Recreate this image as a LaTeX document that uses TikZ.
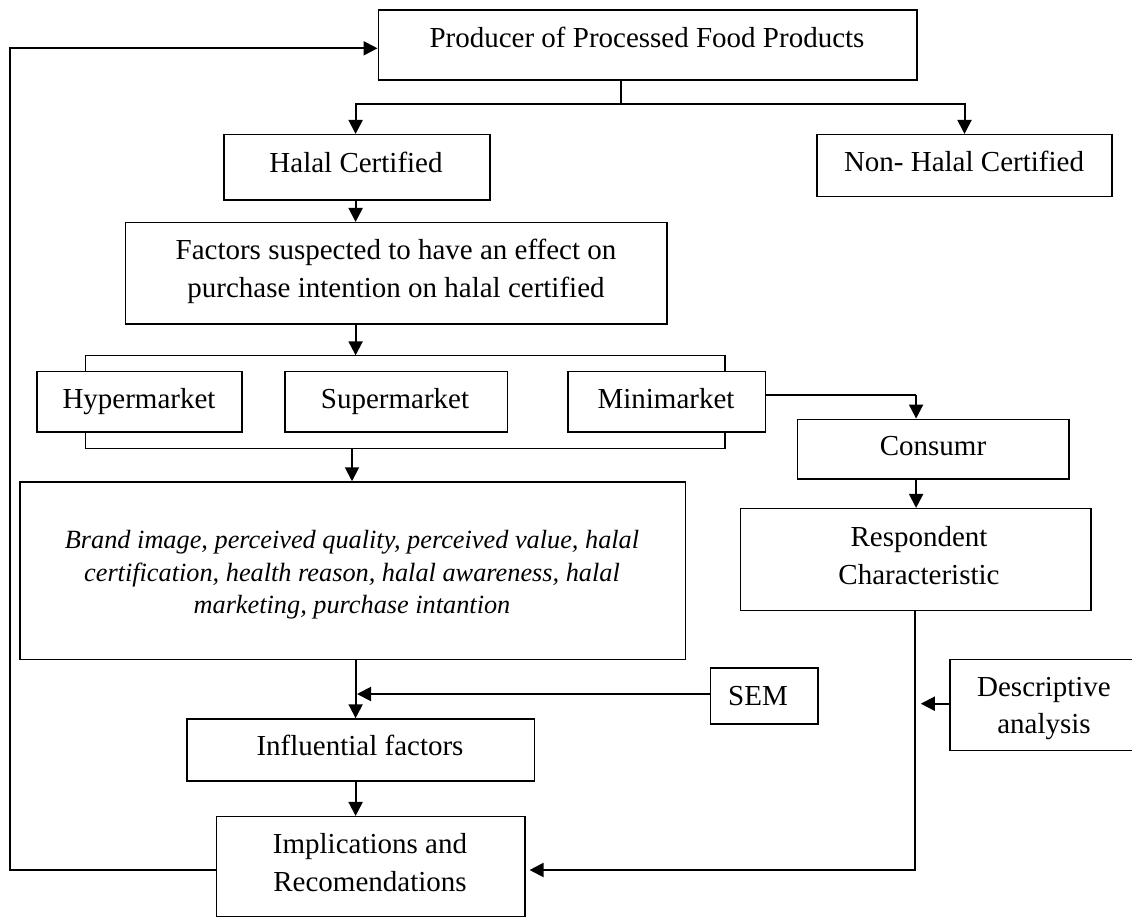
\documentclass[tikz,border=0pt]{standalone}
\usepackage{fontspec}
\setmainfont{Liberation Serif}
\usetikzlibrary{arrows.meta,calc}
\begin{document}
\begin{tikzpicture}[x=1pt,y=-1pt,
  box/.style={draw,line width=1.5pt,rectangle,inner sep=0pt},
  txt/.style={inner sep=0pt,anchor=base,font=\fontsize{29}{38}\selectfont},
  itx/.style={inner sep=0pt,anchor=base,font=\fontsize{26.3}{32}\selectfont\itshape},
  conn/.style={line width=1.5pt},
  arr/.style={line width=2pt,-{Triangle[width=14pt,length=14pt]}}]
\fill[white] (0,0) rectangle (1132,918);
\useasboundingbox (0,0) rectangle (1132,918);

% boxes
\node[box,minimum width=538.6pt,minimum height=70pt] (prod) at (647.6,45) {};
\node[box,minimum width=266pt,minimum height=65.3pt] (halal) at (356.8,167.35) {};
\node[box,minimum width=294.6pt,minimum height=62pt] (nonhalal) at (964.5,165.7) {};
\node[box,minimum width=541.4pt,minimum height=101.3pt] (factors) at (396.3,273.35) {};
\node[box,minimum width=205pt,minimum height=60.3pt] (hyper) at (139.7,401.85) {};
\node[box,minimum width=222.7pt,minimum height=60.3pt] (super) at (396.15,401.85) {};
\node[box,minimum width=197.6pt,minimum height=60.3pt] (mini) at (666.8,401.85) {};
\node[box,minimum width=271.4pt,minimum height=59.7pt] (consumr) at (933.1,449.15) {};
\node[box,minimum width=665.6pt,minimum height=177.3pt] (brand) at (352.7,570.65) {};
\node[box,minimum width=350.2pt,minimum height=101.6pt] (resp) at (915.8,559.5) {};
\node[box,minimum width=107.6pt,minimum height=56pt] (sem) at (764.2,696) {};
\node[box,minimum width=190pt,minimum height=91.4pt] (desc) at (1045,705) {};
\node[box,minimum width=347.6pt,minimum height=62pt] (infl) at (360.8,750) {};
\node[box,minimum width=308.6pt,minimum height=99.8pt] (impl) at (370.9,866.6) {};

% texts
\node[txt] (prod-t) at (647,47) {Producer of Processed Food Products};
\node[txt] (halal-t) at (356,172) {Halal Certified};
\node[txt] (nonhalal-t) at (964,171) {Non- Halal Certified};
\node[txt] (factors-t1) at (396,259) {Factors suspected to have an effect on};
\node[txt] (factors-t2) at (396,297) {purchase intention on halal certified};
\node[txt] (hyper-t) at (139,408) {Hypermarket};
\node[txt] (super-t) at (395,408) {Supermarket};
\node[txt] (mini-t) at (666,408) {Minimarket};
\node[txt] (consumr-t) at (933,455) {Consumr};
\node[itx] (brand-t1) at (352,548) {Brand image, perceived quality, perceived value, halal};
\node[itx] (brand-t2) at (352,581) {certification, health reason, halal awareness, halal};
\node[itx] (brand-t3) at (352,613) {marketing, purchase intantion};
\node[txt] (resp-t1) at (919,546) {Respondent};
\node[txt] (resp-t2) at (919,584) {Characteristic};
\node[txt] (sem-t) at (758,705) {SEM};
\node[txt] (desc-t1) at (1044,696) {Descriptive};
\node[txt] (desc-t2) at (1044,733) {analysis};
\node[txt] (infl-t) at (360,755) {Influential factors};
\node[txt] (impl-t1) at (370,853) {Implications and};
\node[txt] (impl-t2) at (370,891) {Recomendations};

% connector coordinates
\coordinate (br) at (621.2,103.7);
\coordinate (ax) at (355.6,0);
\coordinate (bl1) at (85.5,355.3);
\coordinate (br1) at (725.2,355.3);
\coordinate (bl2) at (85.5,448.7);
\coordinate (br2) at (725.2,448.7);
\coordinate (bm) at (352,448.7);
\coordinate (mc) at (916.1,395);
\coordinate (rc) at (915.4,870);
\coordinate (sj) at (357,694);
\coordinate (dj) at (920.8,703.7);
\coordinate (fb1) at (10.1,870);
\coordinate (fb2) at (10.1,48.3);

% producer split
\draw[conn] (prod.south -| br) -- (br);
\draw[arr] (br) -| (ax |- halal.north);
\draw[arr] (br) -| (nonhalal.north);
% halal -> factors
\draw[arr] (ax |- halal.south) -- (ax |- factors.north);
% factors -> bracket
\draw[arr] (ax |- factors.south) -- (ax |- bl1);
\draw[conn] (bl1 |- hyper.north) -- (bl1) -- (br1) -- (br1 |- mini.north);
% bottom bracket
\draw[conn] (bl2 |- hyper.south) -- (bl2) -- (br2) -- (br2 |- mini.south);
\draw[arr] (bm) -- (bm |- brand.north);
% minimarket -> consumer -> respondent
\draw[conn] (mini.east |- mc) -- (mc);
\draw[arr] (mc) -- (mc |- consumr.north);
\draw[arr] (mc |- consumr.south) -- (mc |- resp.north);
% respondent -> implications
\draw[arr,shorten >=3.6pt] (rc |- resp.south) -- (rc) -- (impl.east |- rc);
% descriptive
\draw[arr] (desc.west |- dj) -- (dj);
% brand -> influential
\draw[arr] (ax |- brand.south) -- (ax |- infl.north);
% SEM
\draw[arr] (sem.west |- sj) -- (sj);
% influential -> implications
\draw[arr] (ax |- infl.south) -- (ax |- impl.north);
% feedback
\draw[arr] (impl.west |- fb1) -- (fb1) -- (fb2) -- (prod.west |- fb2);
\end{tikzpicture}
\end{document}
